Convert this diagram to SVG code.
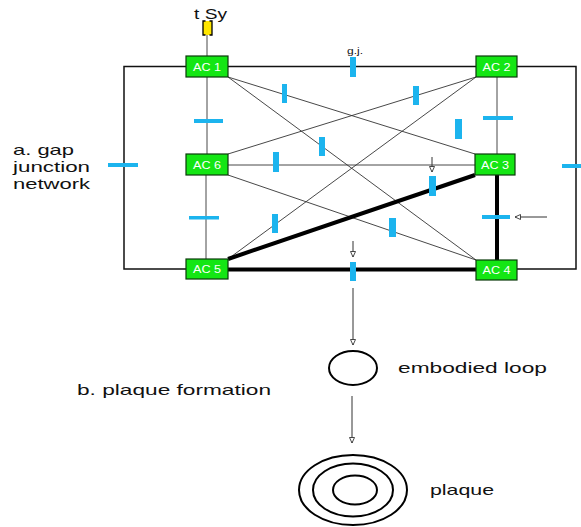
<svg xmlns="http://www.w3.org/2000/svg" width="581" height="527" viewBox="0 0 581 527">
<style>
.bg{fill:#fff}
.outer{fill:none;stroke:#111;stroke-width:1.5}
.thin{fill:none;stroke:#333;stroke-width:0.9}
.thick{fill:none;stroke:#000;stroke-width:4}
.arr{fill:none;stroke:#333;stroke-width:1}
.gj{fill:#1cb4ee}
.box{fill:#14e614;stroke:#0a3a0a;stroke-width:1.2}
.lbl{font-family:"Liberation Sans",Arial,sans-serif;font-size:10.5px;fill:#fff;text-anchor:middle}
.txt{font-family:"Liberation Sans",Arial,sans-serif;font-size:15px;fill:#111}
.loop{fill:none;stroke:#000;stroke-width:2}
</style>
<defs>
<marker id="ah" markerWidth="8" markerHeight="8" refX="6" refY="3" orient="auto" markerUnits="userSpaceOnUse">
<path d="M0.5,0.5 L6,3 L0.5,5.5 Z" fill="#fff" stroke="#333" stroke-width="0.9"/>
</marker>
</defs>
<rect class="bg" x="0" y="0" width="581" height="527"/>
<g id="connectors">
<polyline class="outer" points="186,66.5 124,66.5 124,269 186,269"/>
<polyline class="outer" points="228,66.5 476,66.5"/>
<polyline class="outer" points="517,66.5 576,66.5 576,269 517,269"/>
<line class="thin" x1="207" y1="35" x2="207" y2="56"/>
<line class="thin" x1="207" y1="77" x2="207" y2="154"/>
<line class="thin" x1="206" y1="175" x2="206" y2="259"/>
<line class="thin" x1="497" y1="77" x2="497" y2="154"/>
<line class="thin" x1="228" y1="77" x2="475" y2="154"/>
<line class="thin" x1="228" y1="77" x2="476" y2="260"/>
<line class="thin" x1="476" y1="77" x2="228" y2="154"/>
<line class="thin" x1="476" y1="77" x2="228" y2="259"/>
<line class="thin" x1="228" y1="165" x2="475" y2="165"/>
<line class="thin" x1="228" y1="175" x2="476" y2="260"/>
<line class="thick" x1="497" y1="175" x2="497" y2="260"/>
<line class="thick" x1="228" y1="269.5" x2="476" y2="269.5"/>
<line class="thick" x1="228" y1="259" x2="475" y2="175"/>
<line class="arr" x1="432" y1="157" x2="432" y2="172" marker-end="url(#ah)"/>
<line class="arr" x1="547" y1="217" x2="515" y2="217" marker-end="url(#ah)"/>
<line class="arr" x1="353" y1="241" x2="353" y2="257" marker-end="url(#ah)"/>
<line class="arr" x1="353" y1="288" x2="353" y2="345" marker-end="url(#ah)"/>
<line class="arr" x1="352" y1="396" x2="352" y2="443" marker-end="url(#ah)"/>
</g>
<g id="gap-junctions">
<rect class="gj" x="350" y="57" width="6" height="20"/>
<rect class="gj" x="282" y="84" width="5" height="19"/>
<rect class="gj" x="319" y="137" width="6" height="19"/>
<rect class="gj" x="194" y="119" width="29" height="4"/>
<rect class="gj" x="108" y="163" width="30" height="4"/>
<rect class="gj" x="273" y="152" width="6" height="20"/>
<rect class="gj" x="413" y="86" width="6" height="19"/>
<rect class="gj" x="455" y="119" width="7" height="20"/>
<rect class="gj" x="483" y="116" width="30" height="4"/>
<rect class="gj" x="562" y="164" width="19" height="4"/>
<rect class="gj" x="429" y="176" width="7" height="20"/>
<rect class="gj" x="482" y="215" width="28" height="4"/>
<rect class="gj" x="389" y="218" width="7" height="19"/>
<rect class="gj" x="272" y="214" width="6" height="19"/>
<rect class="gj" x="189" y="216" width="30" height="3.5"/>
<rect class="gj" x="350" y="262" width="6" height="19"/>
</g>
<g id="tSy">
<text class="txt" x="194" y="19" font-size="14" textLength="33" lengthAdjust="spacingAndGlyphs">t Sy</text>
<rect x="203" y="21" width="9" height="14" fill="#ffe600"/>
<path d="M205.5,21 H203 V35 H205.5 M209.5,21 H212 V35 H209.5" fill="none" stroke="#000" stroke-width="1.3"/>
</g>
<g id="gj-label">
<text class="txt" x="347" y="54" style="font-size:9px" textLength="16" lengthAdjust="spacingAndGlyphs">g.j.</text>
</g>
<g id="AC1"><rect class="box" x="186" y="56" width="42" height="21"/><text class="lbl" x="207" y="70.5" textLength="28" lengthAdjust="spacingAndGlyphs">AC 1</text></g>
<g id="AC2"><rect class="box" x="476" y="56" width="41" height="21"/><text class="lbl" x="496.5" y="70.5" textLength="28" lengthAdjust="spacingAndGlyphs">AC 2</text></g>
<g id="AC3"><rect class="box" x="475" y="154" width="40" height="21"/><text class="lbl" x="495" y="168.5" textLength="28" lengthAdjust="spacingAndGlyphs">AC 3</text></g>
<g id="AC4"><rect class="box" x="476" y="260" width="41" height="20"/><text class="lbl" x="496.5" y="274" textLength="28" lengthAdjust="spacingAndGlyphs">AC 4</text></g>
<g id="AC5"><rect class="box" x="186" y="259" width="42" height="20"/><text class="lbl" x="207" y="273" textLength="28" lengthAdjust="spacingAndGlyphs">AC 5</text></g>
<g id="AC6"><rect class="box" x="186" y="154" width="42" height="21"/><text class="lbl" x="207" y="168.5" textLength="28" lengthAdjust="spacingAndGlyphs">AC 6</text></g>
<g id="label-a">
<text class="txt" x="13" y="155" textLength="61" lengthAdjust="spacingAndGlyphs">a. gap</text>
<text class="txt" x="13" y="172" textLength="77" lengthAdjust="spacingAndGlyphs">junction</text>
<text class="txt" x="13" y="189" textLength="77" lengthAdjust="spacingAndGlyphs">network</text>
</g>
<g id="label-b">
<text class="txt" x="77" y="395" textLength="194" lengthAdjust="spacingAndGlyphs">b. plaque formation</text>
</g>
<g id="embodied-loop">
<ellipse class="loop" cx="353" cy="368" rx="24" ry="17"/>
<text class="txt" x="398" y="373" textLength="149" lengthAdjust="spacingAndGlyphs">embodied loop</text>
</g>
<g id="plaque">
<ellipse class="loop" cx="353" cy="490" rx="54" ry="35" stroke-width="2.5"/>
<ellipse class="loop" cx="353" cy="490" rx="40" ry="26.5" stroke-width="2.5"/>
<ellipse class="loop" cx="355" cy="490" rx="22" ry="14.5" stroke-width="2.5"/>
<text class="txt" x="430" y="495" textLength="64" lengthAdjust="spacingAndGlyphs">plaque</text>
</g>
</svg>
